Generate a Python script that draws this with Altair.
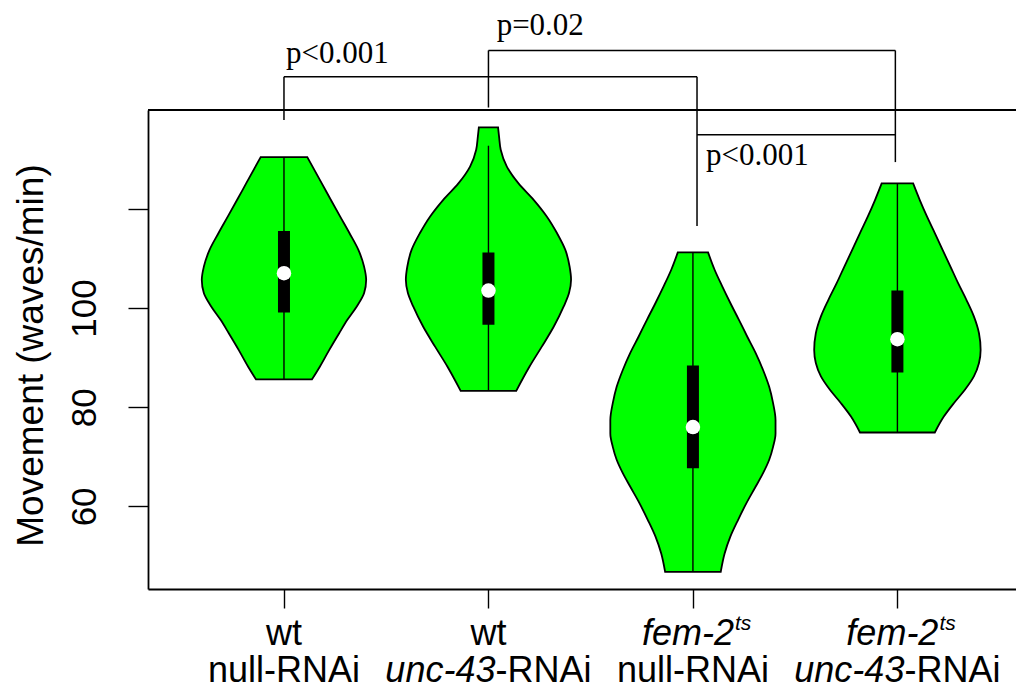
import altair as alt
import pandas as pd

# ---------------- data ----------------
groups = [1, 2, 3, 4]

# violin outlines: value (waves/min) and half-width (in group units)
v1_val = [130.4, 125.1, 121.8, 118.4, 115.1, 111.7, 108.3, 105.7, 103.0, 100.3, 97.6, 94.9, 91.5, 88.2, 85.6]
v1_hw = [0.114, 0.185, 0.229, 0.275, 0.320, 0.364, 0.392, 0.402, 0.392, 0.356, 0.310, 0.270, 0.221, 0.176, 0.137]

v2_val = [136.4, 134.5, 131.9, 128.5, 125.1, 121.8, 118.4, 115.1, 111.7, 108.3, 105.7, 103.0, 100.3, 96.2, 92.2, 88.2, 83.3]
v2_hw = [0.047, 0.052, 0.060, 0.090, 0.147, 0.221, 0.286, 0.335, 0.376, 0.397, 0.404, 0.394, 0.368, 0.319, 0.261, 0.201, 0.136]

v3_val = [111.2, 107.7, 104.3, 101.0, 97.6, 94.2, 90.9, 87.5, 84.1, 80.8, 77.4, 74.7, 72.0, 69.4, 66.7, 64.0, 60.6, 57.3, 53.9, 50.5, 46.8]
v3_hw = [0.074, 0.106, 0.144, 0.183, 0.225, 0.266, 0.307, 0.343, 0.373, 0.392, 0.404, 0.404, 0.392, 0.373, 0.343, 0.307, 0.261, 0.221, 0.183, 0.155, 0.136]

v4_val = [125.1, 121.8, 118.4, 115.1, 111.7, 108.3, 105.0, 101.6, 98.3, 94.9, 91.5, 88.9, 86.2, 83.5, 80.8, 78.1, 74.9]
v4_hw = [0.077, 0.109, 0.145, 0.183, 0.221, 0.260, 0.297, 0.338, 0.374, 0.399, 0.407, 0.399, 0.374, 0.330, 0.276, 0.227, 0.183]

# box statistics
q1 = [99.1, 96.6, 67.7, 87.0]
q3 = [115.5, 111.2, 88.4, 103.5]
med = [107.0, 103.5, 76.0, 93.7]
w_lo = [85.6, 83.3, 46.8, 74.9]
w_hi = [130.4, 132.7, 111.2, 125.1]

# significance brackets (segments) and labels
br_x = [1.0, 1.0, 3.02, 2.0, 2.0, 3.99, 3.02]
br_x2 = [1.0, 3.02, 3.02, 2.0, 3.99, 3.99, 3.99]
br_y = [137.9, 146.6, 116.5, 140.4, 151.9, 129.4, 134.9]
br_y2 = [146.6, 146.6, 146.6, 151.9, 151.9, 151.9, 134.9]
p_text = ["p<0.001", "p=0.02", "p<0.001"]
p_x = [1.01, 2.04, 3.064]
p_y = [149.3, 155.0, 128.8]

# x category labels
line1_plain = ["wt", "wt"]
line1_plain_x = [1, 2]
line1_ital = ["fem-2", "fem-2"]
line1_sup = ["ts", "ts"]
line1_ital_x = [3, 4]
line2_plain = ["null-RNAi", "null-RNAi"]
line2_plain_x = [1, 3]
line2_ital = ["unc-43", "unc-43"]
line2_rest = ["-RNAi", "-RNAi"]
line2_ital_x = [2, 4]

y_ticks = [60, 80, 100, 120]

# ---------------- tables ----------------
rows = []
for g, vals, hws in zip(groups, [v1_val, v2_val, v3_val, v4_val], [v1_hw, v2_hw, v3_hw, v4_hw]):
    for v, h in zip(vals, hws):
        rows.append({"group": g, "val": v, "left": g - h, "right": g + h})
vdf = pd.DataFrame(rows)
sdf = pd.DataFrame({"group": groups, "q1": q1, "q3": q3, "med": med, "lo": w_lo, "hi": w_hi})
bdf = pd.DataFrame({"x": br_x, "x2": br_x2, "y": br_y, "y2": br_y2})
pdf = pd.DataFrame({"x": p_x, "y": p_y, "t": p_text})

W, H = 868, 479
xs = alt.Scale(domain=[0.335, 4.58], nice=False, zero=False)
ys = alt.Scale(domain=[43.35, 139.9], nice=False, zero=False)

xaxis = alt.Axis(values=groups, labels=False, title=None, tickSize=19, grid=False,
                 domainColor="black", domainWidth=1.8, tickColor="black", tickWidth=1.4)
yaxis = alt.Axis(values=y_ticks, labelExpr="datum.value == 120 ? '' : datum.label",
                 labelAngle=270, labelAlign="center", labelBaseline="alphabetic",
                 labelPadding=33, labelFontSize=35, labelFont="Liberation Sans",
                 labelColor="black", labelOverlap=False, labelFlush=False,
                 title="Movement (waves/min)", titleFont="Liberation Sans", titleFontSize=37,
                 titleFontWeight="normal", titleColor="black", titleAngle=270,
                 titleX=-106, titleY=245, titleAlign="center", titleBaseline="alphabetic",
                 tickSize=20, grid=False, domainColor="black", domainWidth=1.8,
                 tickColor="black", tickWidth=1.4)

violins = alt.Chart(vdf).mark_area(
    orient="horizontal", color="#00FF00", stroke="black", strokeWidth=1.8,
    interpolate="monotone", opacity=1
).encode(
    y=alt.Y("val:Q", scale=ys, axis=yaxis),
    x=alt.X("left:Q", scale=xs, axis=xaxis),
    x2="right:Q",
    detail="group:N",
)

whisk = alt.Chart(sdf).mark_rule(color="black", strokeWidth=1.4).encode(
    x=alt.X("group:Q", scale=xs), y=alt.Y("lo:Q", scale=ys), y2="hi:Q")
box = alt.Chart(sdf).mark_rule(color="black", strokeWidth=12, strokeCap="butt").encode(
    x=alt.X("group:Q", scale=xs), y=alt.Y("q1:Q", scale=ys), y2="q3:Q")
medp = alt.Chart(sdf).mark_circle(color="white", size=210, opacity=1).encode(
    x=alt.X("group:Q", scale=xs), y=alt.Y("med:Q", scale=ys))

top_border = alt.Chart(sdf).mark_rule(color="black", strokeWidth=1.8).encode(
    x=alt.value(0), x2=alt.value(W), y=alt.value(0))

brackets = alt.Chart(bdf).mark_rule(color="black", strokeWidth=1.5, clip=False).encode(
    x=alt.X("x:Q", scale=xs), x2="x2:Q", y=alt.Y("y:Q", scale=ys), y2="y2:Q")
ptext = alt.Chart(pdf).mark_text(font="Liberation Serif", fontSize=31, align="left",
                                 baseline="alphabetic", color="black", clip=False).encode(
    x=alt.X("x:Q", scale=xs), y=alt.Y("y:Q", scale=ys), text="t:N")

LFS = 36
Y1, Y2 = 535, 572


def lab(texts, xpos, y, align, dx=0, italic=False, size=LFS):
    d = pd.DataFrame({"x": xpos, "t": texts})
    return alt.Chart(d).mark_text(font="Liberation Sans", fontSize=size, align=align,
                                  baseline="alphabetic", dx=dx, color="black",
                                  fontStyle="italic" if italic else "normal").encode(
        x=alt.X("x:Q", scale=xs), y=alt.value(y), text="t:N")


labels = [
    lab(line1_plain, line1_plain_x, Y1, "center"),
    lab(line1_ital, line1_ital_x, Y1, "right", dx=41, italic=True),
    lab(line1_sup, line1_ital_x, Y1 - 15, "left", dx=42, italic=True, size=21),
    lab(line2_plain, line2_plain_x, Y2, "center"),
    lab(line2_ital, line2_ital_x, Y2, "right", dx=7, italic=True),
    lab(line2_rest, line2_ital_x, Y2, "left", dx=7),
]

chart = alt.layer(violins, whisk, box, medp, top_border, brackets, ptext, *labels).properties(
    width=W, height=H,
    autosize=alt.AutoSizeParams(type="none"),
    padding={"left": 140, "top": 102, "right": 0, "bottom": 100},
    background="white",
).configure_view(stroke=None)

chart.save("out.html", embed_options={"renderer": "svg", "actions": False})
